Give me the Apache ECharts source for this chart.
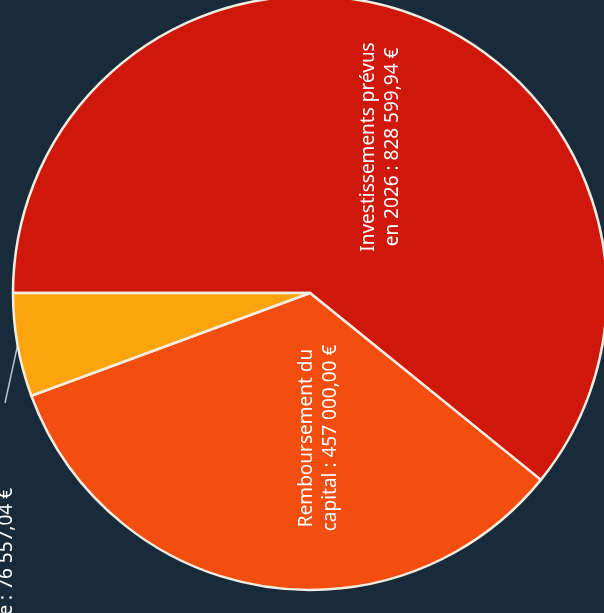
<!DOCTYPE html>
<html>
<head>
<meta charset="utf-8">
<script src="https://cdn.jsdelivr.net/npm/echarts@6/dist/echarts.min.js"></script>
<style>
  html, body { margin: 0; padding: 0; background: #172b3a; }
  #chart { width: 604px; height: 613px; }
</style>
</head>
<body>
<div id="chart"></div>
<script>
// postes de dépenses
const categories = ['Investissements prévus\nen 2026', 'Remboursement du\ncapital', 'Intérêts de la dette'];
const values = [828599.94, 457000.00, 76557.04];
const colors = ['#cf180b', '#f44d10', '#fca40d'];

const euro = (v) => {
    const [ent, dec] = v.toFixed(2).split('.');
    return ent.replace(/\B(?=(\d{3})+(?!\d))/g, ' ') + ',' + dec + ' €';
};

const chart = echarts.init(document.getElementById('chart'));

const option = {
    backgroundColor: '#172b3a',
    animation: false,
    series: [
        {
            type: 'pie',
            center: [310, 293],
            radius: 297,
            startAngle: 180,
            clockwise: true,
            avoidLabelOverlap: false,
            itemStyle: {
                borderColor: '#f4ede2',
                borderWidth: 2.5
            },
            label: {
                show: true,
                position: 'inside',
                rotate: 90,
                color: '#ffffff',
                fontFamily: 'Noto Sans',
                fontSize: 19,
                lineHeight: 24,
                formatter: (p) => p.name + ' : ' + euro(p.value)
            },
            labelLine: {
                show: false
            },
            // place des libellés tournés, comme sur le document
            labelLayout: (params) => {
                if (params.dataIndex === 0) {
                    return {x: 381, y: 147, align: 'center', verticalAlign: 'middle', rotate: 90};
                }
                if (params.dataIndex === 1) {
                    return {x: 319, y: 438, align: 'center', verticalAlign: 'middle', rotate: 90};
                }
                const p0 = params.labelLinePoints ? params.labelLinePoints[0] : [18, 345];
                return {
                    x: 7,
                    y: 488,
                    rotate: 90,
                    align: 'right',
                    verticalAlign: 'middle',
                    labelLinePoints: [p0, [5, 403], [5, 403]]
                };
            },
            data: categories.map((name, i) => {
                const item = {name: name, value: values[i], itemStyle: {color: colors[i]}};
                if (i === 2) {
                    item.label = {
                        position: 'outside',
                        rotate: 90
                    };
                    item.labelLine = {
                        show: true,
                        length: 20,
                        length2: 0,
                        lineStyle: {color: '#b9c3cc', width: 1.5}
                    };
                }
                return item;
            })
        }
    ]
};

chart.setOption(option);

window.addEventListener('resize', function () {
    chart.resize();
});
</script>
</body>
</html>
